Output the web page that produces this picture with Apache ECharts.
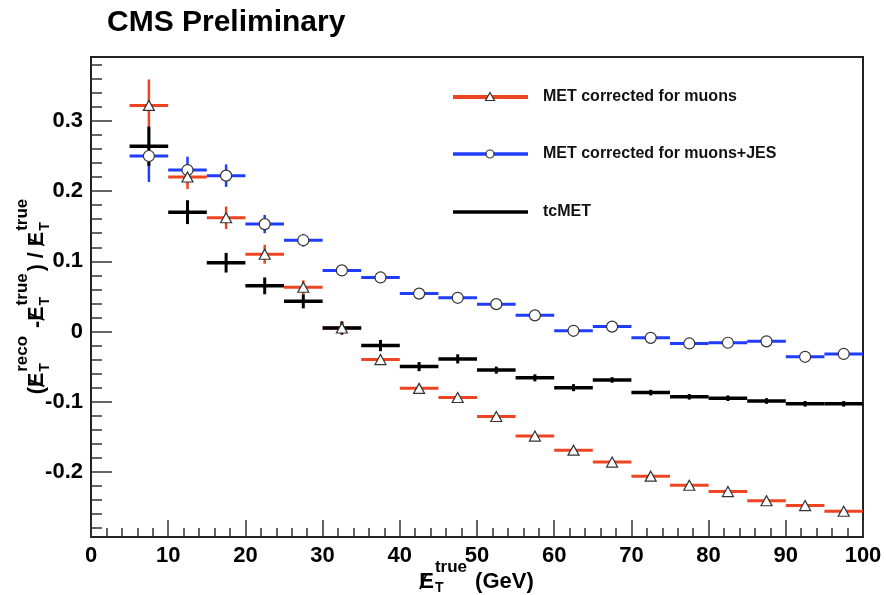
<!DOCTYPE html>
<html>
<head>
<meta charset="utf-8">
<script src="https://cdn.jsdelivr.net/npm/echarts@6/dist/echarts.min.js"></script>
<style>
  html, body { margin: 0; padding: 0; background: #fff; }
  #chart { width: 886px; height: 595px; }
</style>
</head>
<body>
<div id="chart"></div>
<script>
// Bin edges of true MET (GeV)
const binEdges = [5, 10, 15, 20, 25, 30, 35, 40, 45, 50, 55, 60, 65, 70, 75, 80, 85, 90, 95, 100];

// MET corrected for muons
const metMuons    = [0.322, 0.220, 0.162, 0.110, 0.063, 0.005, -0.040, -0.081, -0.094, -0.121, -0.149, -0.169, -0.186, -0.206, -0.219, -0.228, -0.241, -0.248, -0.256];
const metMuonsErr = [0.037, 0.017, 0.016, 0.0135, 0.010, 0.010, 0.006, 0.004, 0.004, 0.003, 0.003, 0.003, 0.003, 0.003, 0.003, 0.003, 0.003, 0.003, 0.003];

// MET corrected for muons + JES
const metMuonsJes    = [0.250, 0.230, 0.222, 0.153, 0.130, 0.087, 0.077, 0.054, 0.048, 0.039, 0.023, 0.001, 0.007, -0.009, -0.017, -0.016, -0.014, -0.036, -0.032];
const metMuonsJesErr = [0.037, 0.019, 0.016, 0.013, 0.009, 0.006, 0.006, 0.005, 0.004, 0.004, 0.003, 0.003, 0.003, 0.003, 0.003, 0.003, 0.003, 0.003, 0.003];

// Track-corrected MET
const tcMet    = [0.264, 0.170, 0.098, 0.065, 0.043, 0.005, -0.020, -0.050, -0.039, -0.055, -0.066, -0.080, -0.069, -0.087, -0.093, -0.095, -0.099, -0.103, -0.103];
const tcMetErr = [0.028, 0.017, 0.014, 0.012, 0.010, 0.009, 0.008, 0.0065, 0.0065, 0.005, 0.005, 0.005, 0.004, 0.004, 0.004, 0.004, 0.004, 0.004, 0.004];

// Axis ticks
const xTickValues = [0, 10, 20, 30, 40, 50, 60, 70, 80, 90, 100];
const yTickValues = [-0.2, -0.1, 0, 0.1, 0.2, 0.3];
const yMinorTicks = [-0.28, -0.26, -0.24, -0.22, -0.18, -0.16, -0.14, -0.12, -0.08, -0.06, -0.04, -0.02,
                     0.02, 0.04, 0.06, 0.08, 0.12, 0.14, 0.16, 0.18, 0.22, 0.24, 0.26, 0.28, 0.32, 0.34, 0.36, 0.38];

const seriesNames = ['MET corrected for muons', 'MET corrected for muons+JES', 'tcMET'];

const FONT = '"Liberation Sans", Arial, Helvetica, sans-serif';
const RED = '#ee4422';
const BLUE = '#1f3cff';
const BLACK = '#000000';
const Y_MIN = -0.2927, Y_MAX = 0.391;

const chart = echarts.init(document.getElementById('chart'), null, { renderer: 'canvas' });

function errorBars(name, values, errors, color, hWidth, vWidth, z) {
  return {
    type: 'custom',
    name: name,
    silent: true,
    z: z,
    data: values.map((v, i) => [binEdges[i], binEdges[i + 1], v, errors[i]]),
    encode: { x: [0, 1], y: 2 },
    renderItem: function (params, api) {
      const x0 = api.value(0), x1 = api.value(1), y = api.value(2), e = api.value(3);
      const xm = (x0 + x1) / 2;
      const pL = api.coord([x0, y]), pR = api.coord([x1, y]);
      const pT = api.coord([xm, y + e]), pB = api.coord([xm, y - e]);
      return {
        type: 'group',
        children: [
          { type: 'line', shape: { x1: pL[0], y1: pL[1], x2: pR[0], y2: pR[1] }, style: { stroke: color, lineWidth: hWidth } },
          { type: 'line', shape: { x1: pT[0], y1: pT[1], x2: pB[0], y2: pB[1] }, style: { stroke: color, lineWidth: vWidth } }
        ]
      };
    }
  };
}

function markers(name, values, symbol, size, z) {
  return {
    type: 'scatter',
    name: name,
    silent: true,
    z: z,
    symbol: symbol,
    symbolSize: size,
    itemStyle: { color: '#ffffff', borderColor: '#333333', borderWidth: 1.2, opacity: 1 },
    data: values.map((v, i) => [(binEdges[i] + binEdges[i + 1]) / 2, v])
  };
}

// Text measuring for the composed axis titles
const measureCtx = document.createElement('canvas').getContext('2d');
function textWidth(t, size) {
  measureCtx.font = 'bold ' + size + 'px ' + FONT;
  return measureCtx.measureText(t).width;
}

// Lays out a run of text pieces; "met" pieces draw a slashed E with stacked sup/sub
function composeTitle(pieces, mainSize, supSize, subSize, supDy, subDy) {
  const children = [];
  let cx = 0;
  const txt = (t, x, y, size) => ({
    type: 'text', x: x, y: y,
    style: { text: t, fill: '#000', font: 'bold ' + size + 'px ' + FONT, align: 'left', verticalAlign: 'middle' }
  });
  const cap = 0.36 * mainSize;
  pieces.forEach(p => {
    if (p.met) {
      const wE = textWidth('E', mainSize);
      children.push(txt('E', cx, 0, mainSize));
      children.push({
        type: 'line',
        shape: { x1: cx + 0.05 * wE, y1: cap * 0.95, x2: cx + 0.5 * wE, y2: -cap * 1.0 },
        style: { stroke: '#000', lineWidth: 1.8 }
      });
      cx += wE + 1;
      const wSup = textWidth(p.sup, supSize);
      const wSub = textWidth('T', subSize);
      children.push(txt(p.sup, cx, supDy, supSize));
      children.push(txt('T', cx, subDy, subSize));
      cx += Math.max(wSup, wSub) + 2;
    } else {
      children.push(txt(p.text, cx, 0, mainSize));
      cx += textWidth(p.text, mainSize);
    }
  });
  return { children: children, length: cx };
}

const yTitle = composeTitle([
  { text: '(' }, { met: true, sup: 'reco' }, { text: ' -' }, { met: true, sup: 'true' },
  { text: ')' }, { text: ' / ' }, { met: true, sup: 'true' }
], 21.5, 17, 14, -15, 8);

const xTitle = composeTitle([
  { met: true, sup: 'true' }, { text: ' (GeV)' }
], 22, 17, 14, -14, 7);

// Legend drawn as line + marker + label rows
const legendX0 = 453, legendX1 = 528, legendMark = 490, legendText = 543;
const legendRows = [97, 154, 212];
function legendRow(i) {
  const y = legendRows[i];
  const colors = [RED, BLUE, BLACK];
  const widths = [4, 3.5, 3.5];
  const els = [
    { type: 'line', shape: { x1: legendX0, y1: y, x2: legendX1, y2: y }, style: { stroke: colors[i], lineWidth: widths[i] } }
  ];
  if (i === 0) {
    els.push({ type: 'polygon', shape: { points: [[legendMark, y - 4.5], [legendMark + 4.5, y + 3.5], [legendMark - 4.5, y + 3.5]] },
               style: { fill: '#fff', stroke: '#333', lineWidth: 1.2 } });
  } else if (i === 1) {
    els.push({ type: 'circle', shape: { cx: legendMark, cy: y, r: 4 }, style: { fill: '#fff', stroke: '#333', lineWidth: 1.2 } });
  }
  els.push({ type: 'text', x: legendText, y: y,
             style: { text: seriesNames[i], fill: '#111', font: 'bold 16px ' + FONT, align: 'left', verticalAlign: 'middle' } });
  return els;
}

const option = {
  animation: false,
  backgroundColor: '#ffffff',
  grid: { left: 91, right: 23, top: 57, bottom: 58, show: true, borderColor: '#222', borderWidth: 2, containLabel: false },
  xAxis: {
    type: 'value', min: 0, max: 100, interval: 10,
    axisLine: { show: true, onZero: false, lineStyle: { color: '#222', width: 2 } },
    axisTick: { show: true, inside: true, length: 17, lineStyle: { color: '#333', width: 1.5 } },
    minorTick: { show: true, splitNumber: 5, length: 9, lineStyle: { color: '#333', width: 1.5 } },
    axisLabel: { fontSize: 22, fontWeight: 'bold', fontFamily: FONT, color: '#000', margin: 8,
                 customValues: xTickValues, showMinLabel: true, showMaxLabel: true },
    splitLine: { show: false }
  },
  yAxis: [
    {
      type: 'value', min: Y_MIN, max: Y_MAX, position: 'left',
      axisLine: { show: true, onZero: false, lineStyle: { color: '#222', width: 2 } },
      axisTick: { show: true, inside: true, length: 21, customValues: yTickValues, lineStyle: { color: '#333', width: 1.5 } },
      axisLabel: { customValues: yTickValues, fontSize: 22, fontWeight: 'bold', fontFamily: FONT, color: '#000', margin: 8 },
      splitLine: { show: false }
    },
    {
      type: 'value', min: Y_MIN, max: Y_MAX, position: 'left',
      axisLine: { show: false, onZero: false },
      axisTick: { show: true, inside: true, length: 11, customValues: yMinorTicks, lineStyle: { color: '#333', width: 1.5 } },
      axisLabel: { show: false },
      splitLine: { show: false }
    }
  ],
  series: [
    errorBars(seriesNames[1], metMuonsJes, metMuonsJesErr, BLUE, 3, 2.5, 2),
    errorBars(seriesNames[0], metMuons, metMuonsErr, RED, 3, 2.5, 3),
    errorBars(seriesNames[2], tcMet, tcMetErr, BLACK, 3.5, 3, 4),
    markers(seriesNames[1], metMuonsJes, 'circle', 11, 5),
    markers(seriesNames[0], metMuons, 'triangle', [11, 10], 6)
  ],
  graphic: [
    { type: 'text', x: 107, y: 23,
      style: { text: 'CMS Preliminary', fill: '#000', font: 'bold 30px ' + FONT, align: 'left', verticalAlign: 'middle' } },
    { type: 'group', x: 37, y: 295.5 + yTitle.length / 2, rotation: Math.PI / 2, children: yTitle.children },
    { type: 'group', x: 476.5 - xTitle.length / 2, y: 581.5, children: xTitle.children },
    ...legendRow(0), ...legendRow(1), ...legendRow(2)
  ]
};

chart.setOption(option);
</script>
</body>
</html>
